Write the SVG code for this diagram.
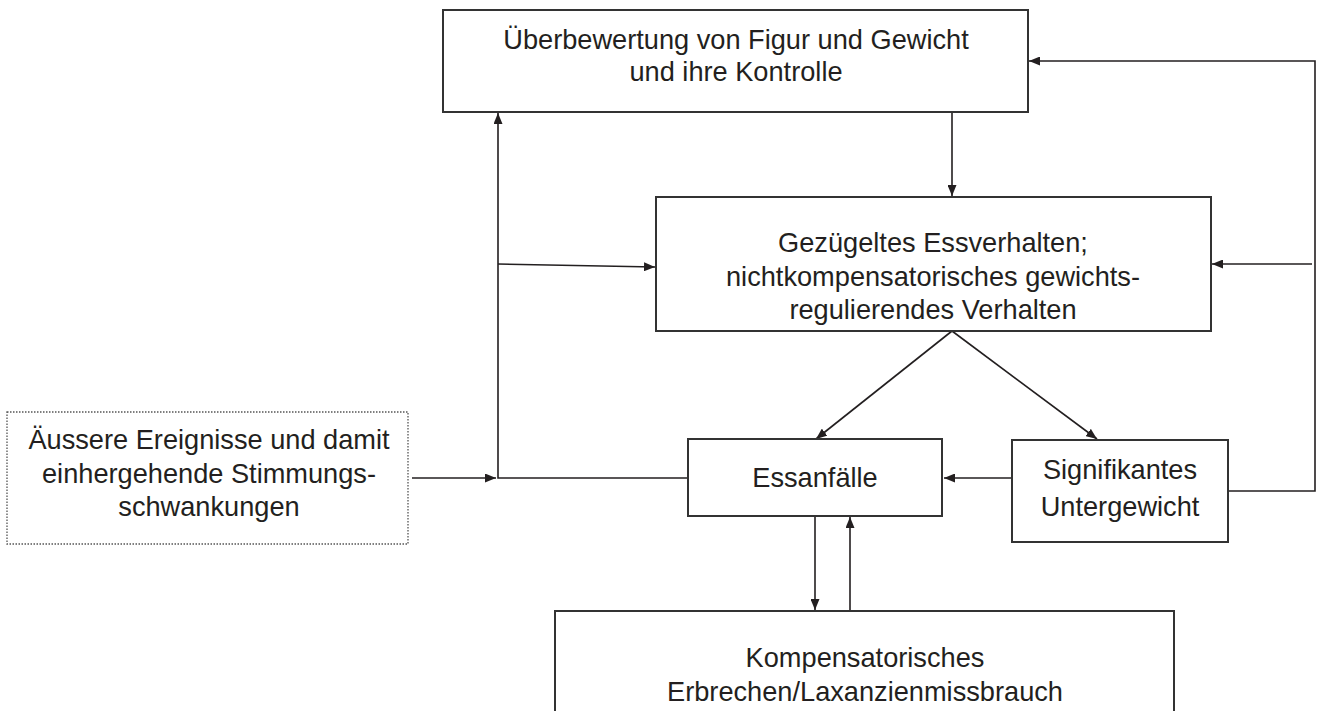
<svg xmlns="http://www.w3.org/2000/svg" width="1318" height="711" viewBox="0 0 1318 711">
<style>
.box{fill:#fff;stroke:#333;stroke-width:2}
.dot{fill:#fff;stroke:#555;stroke-width:1.3;stroke-dasharray:1.5 1.5}
.t{font-family:"Liberation Sans",Arial,sans-serif;font-size:27.2px;fill:#231f20;text-anchor:middle}
.c{fill:none;stroke:#231f20;stroke-width:1.6}
</style>
<defs>
<marker id="ah" viewBox="0 0 11 9" refX="11" refY="4.5" markerWidth="11" markerHeight="9" markerUnits="userSpaceOnUse" orient="auto">
<path d="M0,0 L11,4.5 L0,9 Z" fill="#231f20"/>
</marker>
</defs>
<rect width="1318" height="711" fill="#fff"/>
<g id="connectors">
<line class="c" x1="952" y1="112" x2="952" y2="196" marker-end="url(#ah)"/>
<polyline class="c" points="1228,491 1315,491 1315,61 1029,61" marker-end="url(#ah)"/>
<line class="c" x1="1312" y1="264" x2="1212" y2="264" marker-end="url(#ah)"/>
<polyline class="c" points="688,478 498,478 498,113" marker-end="url(#ah)"/>
<line class="c" x1="498" y1="264" x2="655" y2="267" marker-end="url(#ah)"/>
<line class="c" x1="412" y1="478" x2="496" y2="478" marker-end="url(#ah)"/>
<line class="c" x1="952" y1="331" x2="816" y2="439" marker-end="url(#ah)"/>
<line class="c" x1="952" y1="331" x2="1097" y2="439" marker-end="url(#ah)"/>
<line class="c" x1="1012" y1="478" x2="944" y2="478" marker-end="url(#ah)"/>
<line class="c" x1="815" y1="516" x2="815" y2="610" marker-end="url(#ah)"/>
<line class="c" x1="850" y1="611" x2="850" y2="517" marker-end="url(#ah)"/>
</g>
<g id="n1">
<rect class="box" x="443" y="10" width="585" height="102"/>
<text class="t" x="736" y="49">Überbewertung von Figur und Gewicht</text>
<text class="t" x="736" y="81">und ihre Kontrolle</text>
</g>
<g id="n2">
<rect class="box" x="656" y="197" width="555" height="134"/>
<text class="t" x="933" y="252">Gezügeltes Essverhalten;</text>
<text class="t" x="933" y="286">nichtkompensatorisches gewichts-</text>
<text class="t" x="933" y="319">regulierendes Verhalten</text>
</g>
<g id="n3">
<rect class="dot" x="7" y="412" width="401" height="132"/>
<text class="t" x="209" y="449">Äussere Ereignisse und damit</text>
<text class="t" x="209" y="483">einhergehende Stimmungs-</text>
<text class="t" x="209" y="516">schwankungen</text>
</g>
<g id="n4">
<rect class="box" x="688" y="439" width="254" height="77"/>
<text class="t" x="815" y="487">Essanfälle</text>
</g>
<g id="n5">
<rect class="box" x="1012" y="440" width="216" height="102"/>
<text class="t" x="1120" y="479">Signifikantes</text>
<text class="t" x="1120" y="516">Untergewicht</text>
</g>
<g id="n6">
<rect class="box" x="555" y="611" width="619" height="130"/>
<text class="t" x="865" y="667">Kompensatorisches</text>
<text class="t" x="865" y="701">Erbrechen/Laxanzienmissbrauch</text>
</g>
</svg>
